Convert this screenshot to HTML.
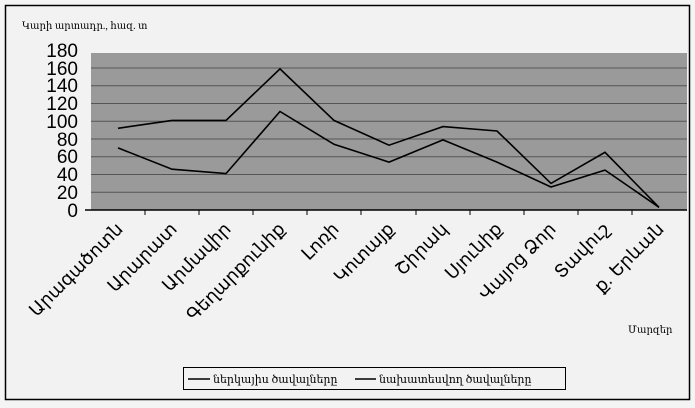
<!DOCTYPE html>
<html><head><meta charset="utf-8"><style>
body{margin:0;background:#fff;}
svg{display:block;font-family:"Liberation Sans","DejaVu Sans",sans-serif;}
</style></head><body>
<svg width="695" height="408" viewBox="0 0 695 408">
<rect x="0" y="0" width="695" height="408" fill="#f4f4f4"/>
<rect x="5.5" y="5.5" width="684" height="394" fill="#f2f2f2" stroke="#000" stroke-width="1.5"/>
<text x="22" y="29" font-size="10" font-family="Liberation Serif,DejaVu Serif,serif">Կարի արտադր., հազ. տ</text>
<rect x="91" y="53" width="596" height="157" fill="#9a9a9a"/>
<g stroke="#555" stroke-width="1">
<line x1="91" y1="192.2" x2="687" y2="192.2"/><line x1="91" y1="174.5" x2="687" y2="174.5"/>
<line x1="91" y1="156.8" x2="687" y2="156.8"/><line x1="91" y1="139" x2="687" y2="139"/>
<line x1="91" y1="121.2" x2="687" y2="121.2"/><line x1="91" y1="103.5" x2="687" y2="103.5"/>
<line x1="91" y1="85.8" x2="687" y2="85.8"/><line x1="91" y1="68" x2="687" y2="68"/>
</g>
<g font-size="19" text-anchor="end" fill="#000">
<text x="78" y="217">0</text><text x="78" y="199">20</text><text x="78" y="181">40</text>
<text x="78" y="163">60</text><text x="78" y="146">80</text><text x="78" y="128">100</text>
<text x="78" y="110">120</text><text x="78" y="92">140</text><text x="78" y="75">160</text>
<text x="78" y="57">180</text>
</g>
<line x1="85" y1="210" x2="687" y2="210" stroke="#000" stroke-width="1.5"/>
<g stroke="#000" stroke-width="1">
<line x1="145" y1="210" x2="145" y2="215"/><line x1="199" y1="210" x2="199" y2="215"/>
<line x1="253" y1="210" x2="253" y2="215"/><line x1="307" y1="210" x2="307" y2="215"/>
<line x1="361" y1="210" x2="361" y2="215"/><line x1="416" y1="210" x2="416" y2="215"/>
<line x1="470" y1="210" x2="470" y2="215"/><line x1="524" y1="210" x2="524" y2="215"/>
<line x1="578" y1="210" x2="578" y2="215"/><line x1="632" y1="210" x2="632" y2="215"/>
</g>
<polyline fill="none" stroke="#000" stroke-width="1.6" points="118,128.3 172,120.4 226,120.4 280,68.9 334,120.4 389,145.2 443,126.6 497,131 551,183.4 605,152.3 659,207.3"/>
<polyline fill="none" stroke="#000" stroke-width="1.6" points="118,147.9 172,169.2 226,173.6 280,111.5 334,144.3 389,162.1 443,139.9 497,162.1 551,187 605,170.1 659,207.3"/>
<g font-size="18" text-anchor="end" fill="#000">
<text transform="translate(124,230) rotate(-45)">Արագածոտն</text>
<text transform="translate(178,230) rotate(-45)">Արարատ</text>
<text transform="translate(232,230) rotate(-45)">Արմավիր</text>
<text transform="translate(286,230) rotate(-45)">Գեղարքունիք</text>
<text transform="translate(340,230) rotate(-45)">Լոռի</text>
<text transform="translate(395,230) rotate(-45)">Կոտայք</text>
<text transform="translate(449,230) rotate(-45)">Շիրակ</text>
<text transform="translate(503,230) rotate(-45)">Սյունիք</text>
<text transform="translate(557,230) rotate(-45)">Վայոց Ձոր</text>
<text transform="translate(611,230) rotate(-45)">Տավուշ</text>
<text transform="translate(665,230) rotate(-45)">ք. Երևան</text>
</g>
<text x="628" y="333" font-size="10" font-family="Liberation Serif,DejaVu Serif,serif">Մարզեր</text>
<rect x="183.5" y="367.5" width="382" height="22" fill="#f2f2f2" stroke="#000"/>
<line x1="188" y1="379" x2="210" y2="379" stroke="#000" stroke-width="1.5"/>
<text x="213" y="383" font-size="11" font-family="Liberation Serif,DejaVu Serif,serif">ներկայիս ծավալները</text>
<line x1="355" y1="379" x2="376" y2="379" stroke="#000" stroke-width="1.5"/>
<text x="379" y="383" font-size="11" font-family="Liberation Serif,DejaVu Serif,serif">նախատեսվող ծավալները</text>
</svg>
</body></html>
